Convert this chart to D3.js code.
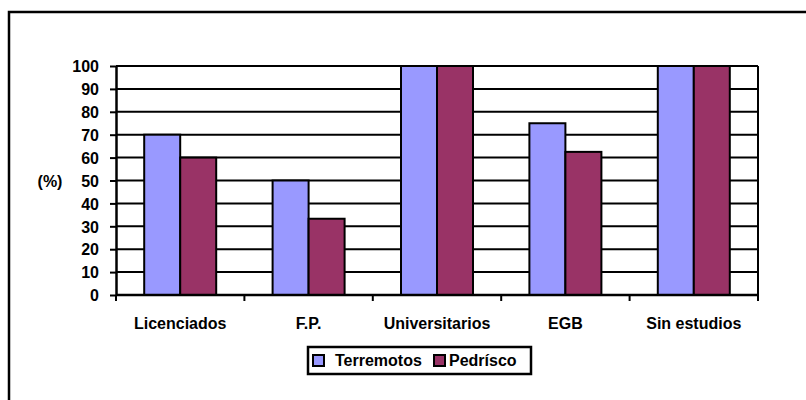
<!DOCTYPE html>
<html>
<head>
<meta charset="utf-8">
<script src="https://cdn.jsdelivr.net/npm/d3@7"></script>
<style>
  body { margin: 0; background: #fff; }
  text { font-family: "Liberation Sans", Arial, sans-serif; font-weight: bold; fill: #000; }
</style>
</head>
<body>
<svg id="chart"></svg>
<script>
// chart data
const categories = ["Licenciados", "F.P.", "Universitarios", "EGB", "Sin estudios"];
const seriesNames = ["Terremotos", "Pedrísco"];
const terremotos = [70, 50, 100, 75, 100];
const pedrisco = [60, 33.3, 100, 62.5, 100];
const yTicks = [0, 10, 20, 30, 40, 50, 60, 70, 80, 90, 100];
const colors = ["#9999ff", "#993366"];

const width = 806, height = 400;
const margin = { top: 66, right: 48, bottom: 105, left: 116 };
const innerW = width - margin.left - margin.right;
const innerH = height - margin.top - margin.bottom;

const svg = d3.select("#chart").attr("width", width).attr("height", height);

// outer frame (runs off the right and bottom edges)
svg.append("rect")
  .attr("x", 9).attr("y", 12)
  .attr("width", 820).attr("height", 420)
  .attr("fill", "none").attr("stroke", "#000").attr("stroke-width", 2.5);

const chart = svg.append("g").attr("transform", `translate(${margin.left},${margin.top})`);

const x0 = d3.scaleBand().domain(categories).range([0, innerW]);
const groupW = 72;
const x1 = d3.scaleBand().domain(seriesNames).range([0, groupW]);
const y = d3.scaleLinear().domain([0, 100]).range([innerH, 0]);

// grid lines
chart.append("g")
  .selectAll("line")
  .data(yTicks.slice(1))
  .join("line")
  .attr("x1", 0).attr("x2", innerW)
  .attr("y1", d => y(d)).attr("y2", d => y(d))
  .attr("stroke", "#000").attr("stroke-width", 2);

// right border of plot area
chart.append("line")
  .attr("x1", innerW).attr("x2", innerW)
  .attr("y1", 0).attr("y2", innerH)
  .attr("stroke", "#000").attr("stroke-width", 2);

// bars
const rows = categories.map((c, i) => ({ cat: c, values: [terremotos[i], pedrisco[i]] }));
chart.append("g")
  .selectAll("g")
  .data(rows)
  .join("g")
  .attr("transform", d => `translate(${x0(d.cat) + (x0.bandwidth() - groupW) / 2},0)`)
  .selectAll("rect")
  .data(d => d.values.map((v, j) => ({ name: seriesNames[j], v, j })))
  .join("rect")
  .attr("x", d => x1(d.name))
  .attr("y", d => y(d.v))
  .attr("width", x1.bandwidth())
  .attr("height", d => innerH - y(d.v))
  .attr("fill", d => colors[d.j])
  .attr("stroke", "#000").attr("stroke-width", 2);

// y axis
const yAxis = d3.axisLeft(y).tickValues(yTicks).tickSize(6).tickSizeOuter(0);
const yAxisG = chart.append("g").call(yAxis);
yAxisG.select(".domain").attr("stroke-width", 2.5);
yAxisG.selectAll(".tick line").attr("stroke-width", 2);
yAxisG.selectAll(".tick text")
  .attr("x", -17)
  .attr("dy", "0.36em")
  .style("font-size", "16px")
  .style("font-weight", "bold")
  .style("font-family", "Liberation Sans, Arial, sans-serif");

// x axis: ticks at category boundaries
const xAxisG = chart.append("g").attr("transform", `translate(0,${innerH})`);
xAxisG.append("line")
  .attr("x1", 0).attr("x2", innerW)
  .attr("stroke", "#000").attr("stroke-width", 2.5);
xAxisG.selectAll(".xtick")
  .data(d3.range(categories.length + 1))
  .join("line")
  .attr("class", "xtick")
  .attr("x1", i => i * x0.step()).attr("x2", i => i * x0.step())
  .attr("y1", 0).attr("y2", 6)
  .attr("stroke", "#000").attr("stroke-width", 2);
xAxisG.selectAll(".xlabel")
  .data(categories)
  .join("text")
  .attr("class", "xlabel")
  .attr("x", d => x0(d) + x0.bandwidth() / 2)
  .attr("y", 34)
  .attr("text-anchor", "middle")
  .style("font-size", "16px")
  .text(d => d);

// y title
svg.append("text")
  .attr("x", 50).attr("y", 187)
  .attr("text-anchor", "middle")
  .style("font-size", "16px")
  .text("(%)");

// legend
const legend = svg.append("g").attr("transform", "translate(308,347)");
legend.append("rect")
  .attr("width", 223).attr("height", 27)
  .attr("fill", "#fff").attr("stroke", "#000").attr("stroke-width", 2.5);
const items = [{ x: 5, t: 27 }, { x: 126, t: 141 }];
seriesNames.forEach((name, j) => {
  legend.append("rect")
    .attr("x", items[j].x).attr("y", 8)
    .attr("width", 11).attr("height", 11)
    .attr("fill", colors[j]).attr("stroke", "#000").attr("stroke-width", 2);
  legend.append("text")
    .attr("x", items[j].t).attr("y", 19)
    .style("font-size", "16px")
    .text(name);
});
</script>
</body>
</html>
